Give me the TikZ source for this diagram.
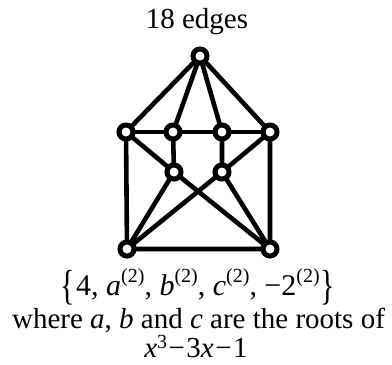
\documentclass[tikz,border=0pt]{standalone}
\usepackage{fontspec}
\setmainfont{Liberation Serif}
\usepackage{graphicx}
\usetikzlibrary{positioning}

\newcommand{\pw}[1]{\raisebox{0.42em}{\fontsize{20}{20}\selectfont #1}}
\newcommand{\brl}{\raisebox{-0.15em}{\scalebox{1}[1.4]{\{}}\kern1pt}
\newcommand{\brr}{\kern1pt\raisebox{-0.15em}{\scalebox{1}[1.4]{\}}}}

\begin{document}
\begin{tikzpicture}[x=1pt,y=-1pt,
  vtx/.style={circle,draw,fill=white,line width=5pt,minimum size=14pt,inner sep=0pt,outer sep=0pt},
  edge/.style={line width=4.6pt},
  lbl/.style={font=\fontsize{29}{32}\selectfont,anchor=base,inner sep=0pt}]
\useasboundingbox (0,0) rectangle (392,365);
% the graph
\node[vtx] (top) at (200,56) {};
\node[vtx] (ol) at (126,132) {};
\node[vtx] (il) at (173,132) {};
\node[vtx] (ir) at (222,132) {};
\node[vtx] (or) at (270,132) {};
\node[vtx] (bl) at (174,172) {};
\node[vtx] (br) at (222,172) {};
\node[vtx] (dl) at (127,249) {};
\node[vtx] (dr) at (270,249) {};
\draw[edge] (top) -- (ol) (top) -- (il) (top) -- (ir) (top) -- (or);
\draw[edge] (ol) -- (il) -- (ir) -- (or);
\draw[edge] (ol) -- (dl) (or) -- (dr) (dl) -- (dr);
\draw[edge] (ol) -- (bl) (or) -- (br) (il) -- (bl) (ir) -- (br);
\draw[edge] (bl) -- (dl) (br) -- (dr) (bl) -- (dr) (br) -- (dl);
% labels
\node[lbl] (title) at (197,28) {18 edges};
\node[lbl,font=\fontsize{30}{32}\selectfont] (spec) at (198,295) {\brl 4, \textit{a}\pw{(2)}, \textit{b}\pw{(2)}, \textit{c}\pw{(2)}, −2\pw{(2)}\brr};
\node[lbl] (where) at (198.5,328) {where \textit{a}, \textit{b} and \textit{c} are the roots of};
\node[lbl] (poly) at (196,357) {\textit{x}\raisebox{0.3em}{\fontsize{20}{20}\selectfont 3}\kern1.5pt−\kern1.5pt3\textit{x}\kern1.5pt−\kern1.5pt1};
\end{tikzpicture}
\end{document}
